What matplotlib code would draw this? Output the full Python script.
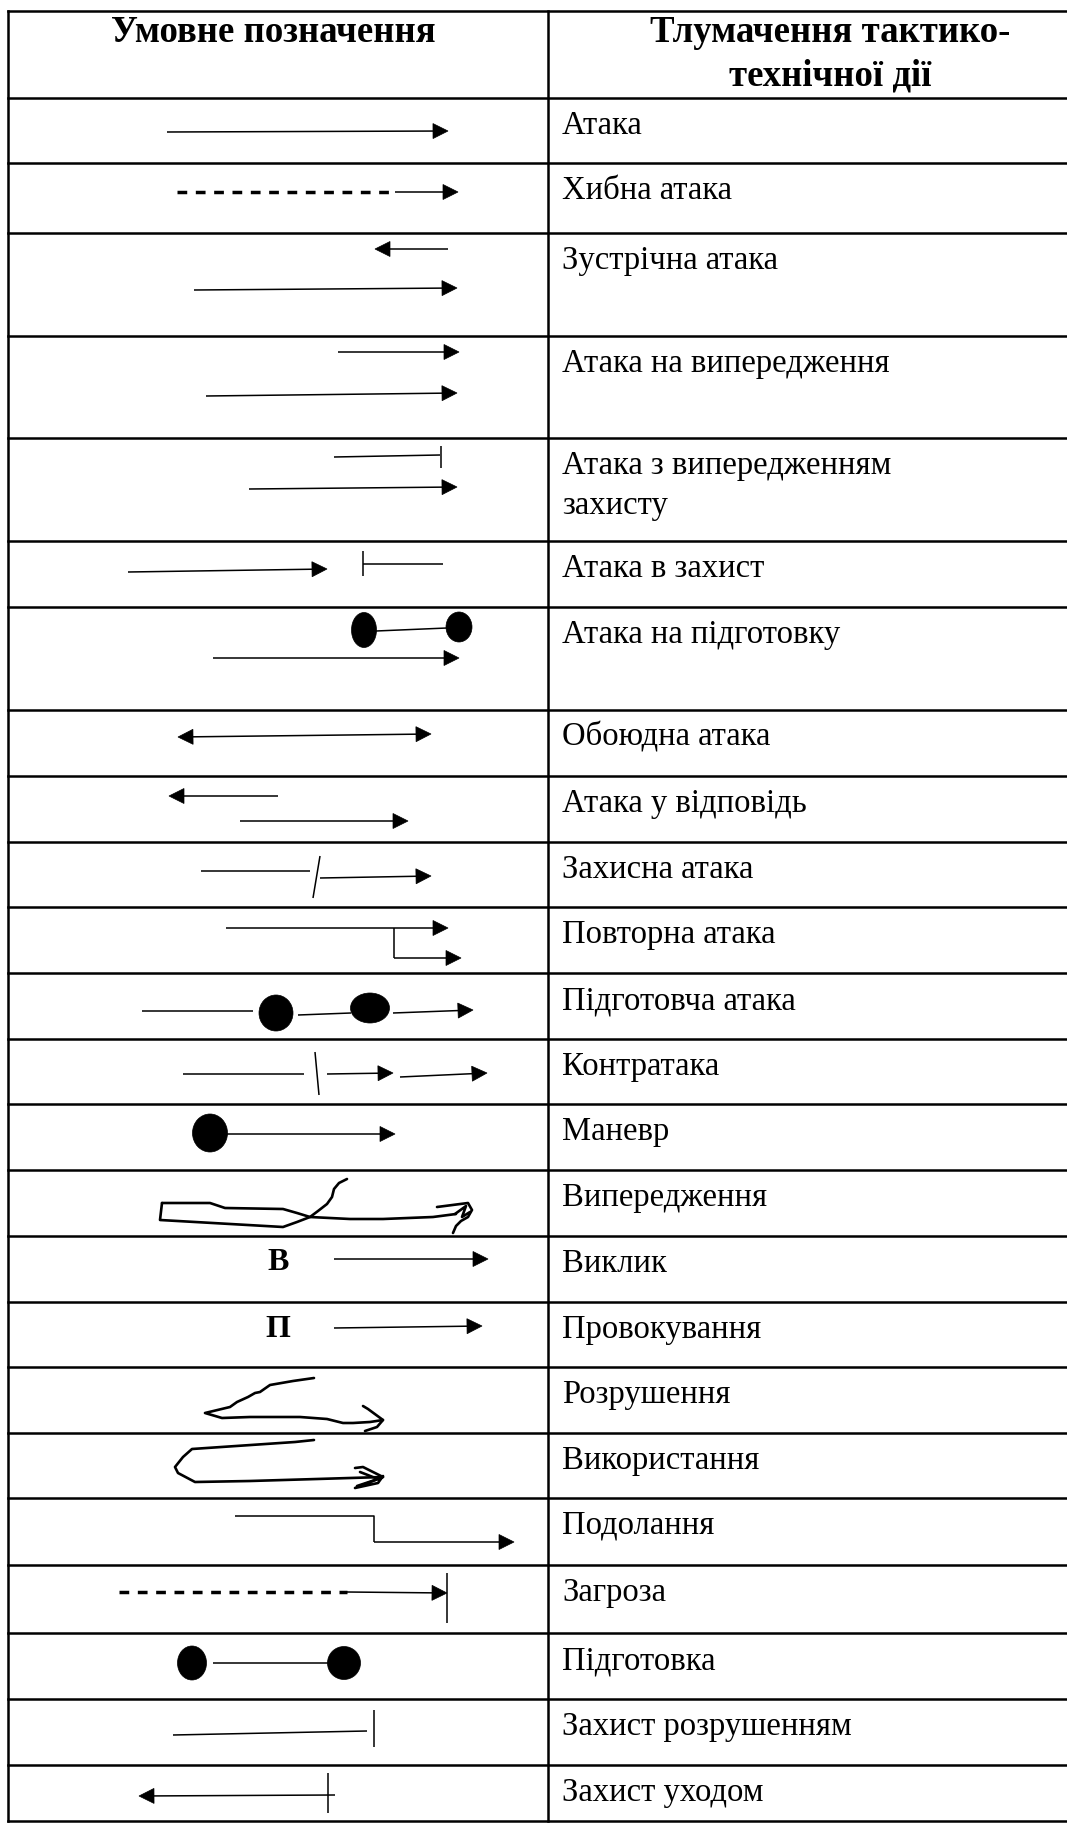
import matplotlib
matplotlib.use("Agg")
import matplotlib.pyplot as plt
from matplotlib.patches import Polygon, Ellipse
import numpy as np

plt.rcParams['lines.scale_dashes'] = False

# ---------------- data ----------------
W, H = 1067, 1825
ROW_EDGES = [11, 98, 163, 233, 336, 438, 541, 607, 710, 776, 842, 907, 973,
             1039, 1104, 1170, 1236, 1302, 1367, 1433, 1498, 1565, 1633, 1699,
             1765, 1821]
TABLE_LEFT, COL_DIV, TABLE_RIGHT = 8, 548, 1067
HEADER_LEFT = ["Умовне позначення"]
HEADER_RIGHT = ["Тлумачення тактико-", "технічної дії"]
LABELS = [["Атака"], ["Хибна атака"], ["Зустрічна атака"],
          ["Атака на випередження"], ["Атака з випередженням", "захисту"],
          ["Атака в захист"], ["Атака на підготовку"], ["Обоюдна атака"],
          ["Атака у відповідь"], ["Захисна атака"], ["Повторна атака"],
          ["Підготовча атака"], ["Контратака"], ["Маневр"], ["Випередження"],
          ["Виклик"], ["Провокування"], ["Розрушення"], ["Використання"],
          ["Подолання"], ["Загроза"], ["Підготовка"], ["Захист розрушенням"],
          ["Захист уходом"]]

# arrows: (x_start, y_start, x_tip, y_tip)
ARROWS = [(167, 132, 448, 131), (395, 192, 458, 192),
          (448, 249, 375, 249), (194, 290, 457, 288),
          (338, 352, 459, 352), (206, 396, 457, 393),
          (249, 489, 457, 487), (128, 572, 327, 569),
          (213, 658, 459, 658),
          (278, 796, 169, 796), (240, 821, 408, 821),
          (320, 878, 431, 876),
          (226, 928, 448, 928), (394, 958, 461, 958),
          (393, 1013, 473, 1010),
          (327, 1074, 393, 1073), (400, 1077, 487, 1073),
          (210, 1134, 395, 1134),
          (334, 1259, 488, 1259), (334, 1328, 482, 1326),
          (374, 1542, 514, 1542), (347, 1592, 447, 1593),
          (335, 1795, 139, 1796)]
# double-headed arrows
DOUBLE_ARROWS = [(178, 737, 431, 734)]
# plain thin polylines
LINES = [[(334, 457), (440, 455)], [(441, 446), (441, 468)],
         [(363, 551), (363, 576)], [(363, 564), (443, 564)],
         [(376, 631), (447, 628)],
         [(201, 871), (310, 871)], [(320, 856), (313, 898)],
         [(394, 928), (394, 958)],
         [(142, 1011), (253, 1011)], [(298, 1015), (351, 1013)],
         [(183, 1074), (304, 1074)], [(315, 1052), (319, 1095)],
         [(235, 1516), (374, 1516), (374, 1542)],
         [(447, 1573), (447, 1623)],
         [(213, 1663), (328, 1663)],
         [(173, 1735), (367, 1731)], [(374, 1710), (374, 1747)],
         [(328, 1773), (328, 1813)]]
DASHED = [[(177, 192), (391, 192)], [(119, 1592), (347, 1592)]]
# filled ellipses: (cx, cy, width, height)
ELLIPSES = [(364, 630, 25, 35), (459, 627, 26, 30),
            (276, 1013, 34, 36), (370, 1008, 39, 30),
            (210, 1133, 35, 38),
            (192, 1663, 29, 34), (344, 1663, 33, 33)]
# hand-drawn strokes
SCRIBBLES = [
    [(162, 1203), (210, 1203), (225, 1208), (283, 1209), (297, 1213), (310, 1217),
     (350, 1219), (383, 1219), (433, 1217), (456, 1214)],
    [(162, 1203), (160, 1220), (283, 1227), (297, 1222), (310, 1217), (318, 1211),
     (327, 1204), (332, 1197), (334, 1189), (339, 1183), (347, 1179)],
    [(437, 1207), (468, 1203), (472, 1210), (468, 1217), (461, 1221), (456, 1226),
     (453, 1233)],
    [(455, 1214), (466, 1206), (462, 1217), (470, 1212)],
    [(314, 1378), (293, 1381), (270, 1385), (260, 1392), (255, 1393), (248, 1397),
     (237, 1402), (230, 1407), (205, 1413), (222, 1418), (250, 1417), (300, 1417),
     (327, 1419), (343, 1423), (353, 1423), (370, 1422), (383, 1420)],
    [(363, 1406), (368, 1409), (383, 1420), (377, 1427), (365, 1431)],
    [(314, 1440), (295, 1442), (192, 1449), (183, 1457), (175, 1467), (178, 1473),
     (195, 1482), (250, 1481), (317, 1479), (350, 1478), (383, 1477)],
    [(355, 1468), (363, 1467), (383, 1477), (355, 1488), (378, 1483), (383, 1476)],
    [(360, 1472), (378, 1479), (357, 1486)]]
LETTERS = [(278, 1270, "В"), (278, 1337, "П")]

# ---------------- drawing ----------------
SERIF = ['Liberation Serif', 'DejaVu Serif']
HEAD_LEN, HEAD_HW = 15, 7.5
LW_SYM = 1.1

fig = plt.figure(figsize=(W / 100, H / 100), dpi=100)
ax = fig.add_axes([0, 0, 1, 1])
ax.set_xlim(0, W)
ax.set_ylim(H, 0)
ax.axis('off')


def head(tip, tail):
    tip = np.array(tip, float)
    tail = np.array(tail, float)
    u = (tip - tail) / np.linalg.norm(tip - tail)
    n = np.array([-u[1], u[0]])
    base = tip - HEAD_LEN * u
    ax.add_patch(Polygon([tip, base + HEAD_HW * n, base - HEAD_HW * n],
                         closed=True, facecolor='black', edgecolor='black',
                         lw=0.5))
    return base


for x0, y0, x1, y1 in ARROWS:
    b = head((x1, y1), (x0, y0))
    ax.plot([x0, b[0]], [y0, b[1]], color='black', lw=LW_SYM,
            solid_capstyle='butt')

for x0, y0, x1, y1 in DOUBLE_ARROWS:
    b1 = head((x1, y1), (x0, y0))
    b0 = head((x0, y0), (x1, y1))
    ax.plot([b0[0], b1[0]], [b0[1], b1[1]], color='black', lw=LW_SYM)

for pts in LINES:
    xs, ys = zip(*pts)
    ax.plot(xs, ys, color='black', lw=LW_SYM, solid_capstyle='butt')

for pts in DASHED:
    xs, ys = zip(*pts)
    ax.plot(xs, ys, color='black', lw=2.5, linestyle=(0, (7.0, 6.2)),
            dash_capstyle='butt')

for cx, cy, w, h in ELLIPSES:
    ax.add_patch(Ellipse((cx, cy), w, h, facecolor='black',
                         edgecolor='black', lw=0.5))

for pts in SCRIBBLES:
    xs, ys = zip(*pts)
    ax.plot(xs, ys, color='black', lw=1.9, solid_joinstyle='round',
            solid_capstyle='round')

for x, y, t in LETTERS:
    ax.text(x, y, t, ha='center', va='baseline', fontsize=23,
            fontweight='bold', family=SERIF)

# table grid
for y in ROW_EDGES:
    ax.plot([TABLE_LEFT, TABLE_RIGHT], [y, y], color='black', lw=1.8,
            solid_capstyle='projecting')
for x in (TABLE_LEFT, COL_DIV):
    ax.plot([x, x], [ROW_EDGES[0], ROW_EDGES[-1]], color='black', lw=1.8,
            solid_capstyle='projecting')

# header
HEAD_BASE, LINE_GAP = 42, 43
for i, t in enumerate(HEADER_LEFT):
    ax.text((TABLE_LEFT + COL_DIV) / 2 - 5, HEAD_BASE + i * LINE_GAP, t,
            ha='center', va='baseline', fontsize=26.5, fontweight='bold',
            family=SERIF)
for i, t in enumerate(HEADER_RIGHT):
    ax.text(830, HEAD_BASE + i * LINE_GAP, t, ha='center', va='baseline',
            fontsize=26.5, fontweight='bold', family=SERIF)

# body labels
for r, lines in enumerate(LABELS):
    top = ROW_EDGES[r + 1]
    for i, t in enumerate(lines):
        ax.text(562, top + 36 + i * 40, t, ha='left', va='baseline',
                fontsize=23.5, family=SERIF)

fig.savefig('out.png', dpi=100, facecolor='white')
